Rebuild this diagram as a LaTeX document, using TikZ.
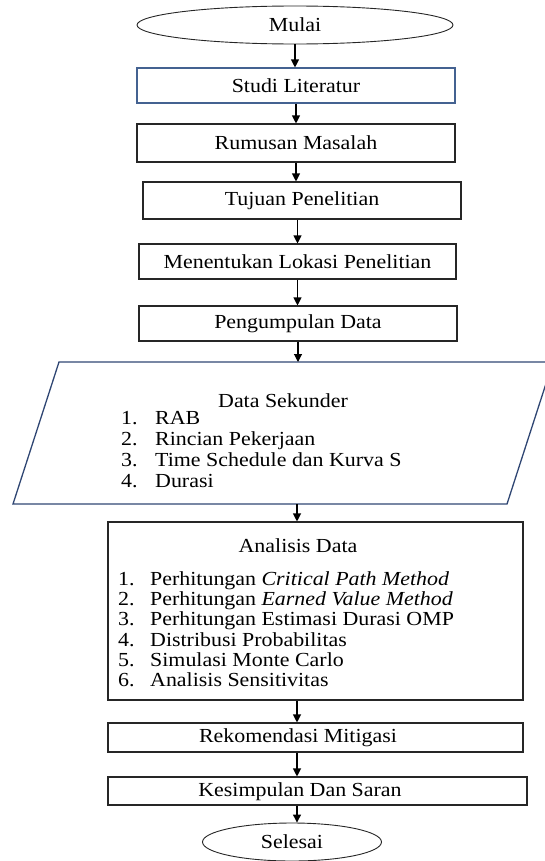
\documentclass[tikz,border=0pt]{standalone}
\usepackage{fontspec}
\setmainfont{Liberation Serif}[FakeStretch=1.1]
\usetikzlibrary{arrows.meta,shapes.geometric}
\definecolor{boxblue}{RGB}{68,98,145}
\definecolor{parablue}{RGB}{47,70,115}
\begin{document}
\begin{tikzpicture}[x=1bp,y=-1bp,
  every node/.style={font=\fontsize{20}{21}\selectfont, inner sep=0pt},
  box/.style={draw=black!85, line width=1.1bp, rectangle},
  term/.style={draw=black!85, line width=0.9bp, ellipse},
  arr/.style={line width=1.1bp, -{Triangle[width=8bp,length=8bp]}},
]
\useasboundingbox (0,0) rectangle (545,861);
\clip (0,0) rectangle (545,861);

\node[term, minimum width=316bp, minimum height=38bp] (mulai) at (295,25) {Mulai};
\node[box, draw=boxblue, minimum width=318bp, minimum height=35bp] (studi) at (296,85.5) {Studi Literatur};
\node[box, minimum width=318bp, minimum height=38bp] (rumusan) at (296,143) {Rumusan Masalah};
\node[box, minimum width=318bp, minimum height=37bp] (tujuan) at (302,200.5) {Tujuan Penelitian};
\node[box, minimum width=317bp, minimum height=35bp] (lokasi) at (297.5,261.5) {Menentukan Lokasi Penelitian};
\node[box, minimum width=318bp, minimum height=35bp] (kumpul) at (298,323.5) {Pengumpulan Data};

\draw[draw=parablue, line width=1.3bp] (59,362) -- (553,362) -- (507,504) -- (13,504) -- cycle;
\coordinate (ptop) at (298,362);
\coordinate (pbot) at (297,504);
\node (dstitle) at (283,401) {Data Sekunder};
\node[anchor=north west, align=left] (dslist) at (121,411)
  {\makebox[34bp][l]{1.}RAB\\
   \makebox[34bp][l]{2.}Rincian Pekerjaan\\
   \makebox[34bp][l]{3.}Time Schedule dan Kurva S\\
   \makebox[34bp][l]{4.}Durasi};

\node[box, minimum width=415bp, minimum height=178bp] (ana) at (315.5,611) {};
\node (anatitle) at (298,546) {Analisis Data};
\node[anchor=north west, align=left, font=\fontsize{20}{20.4}\selectfont] (analist) at (118,571)
  {\makebox[32bp][l]{1.}Perhitungan \textit{Critical Path Method}\\
   \makebox[32bp][l]{2.}Perhitungan \textit{Earned Value Method}\\
   \makebox[32bp][l]{3.}Perhitungan Estimasi Durasi OMP\\
   \makebox[32bp][l]{4.}Distribusi Probabilitas\\
   \makebox[32bp][l]{5.}Simulasi Monte Carlo\\
   \makebox[32bp][l]{6.}Analisis Sensitivitas};

\node[box, minimum width=415bp, minimum height=29bp] (rekom) at (315.5,737.5) {};
\node (rekomtxt) at (298,738) {Rekomendasi Mitigasi};
\node[box, minimum width=419bp, minimum height=28bp] (simpul) at (317.5,791) {};
\node (simpultxt) at (300,792) {Kesimpulan Dan Saran};
\node[term, minimum width=179bp, minimum height=38bp] (selesai) at (292,842) {Selesai};

\draw[arr] (mulai.south) -- (mulai.south |- studi.north);
\draw[arr] (studi.south) -- (studi.south |- rumusan.north);
\draw[arr] (rumusan.south) -- (rumusan.south |- tujuan.north);
\draw[arr] (lokasi.north |- tujuan.south) -- (lokasi.north);
\draw[arr] (lokasi.south) -- (lokasi.south |- kumpul.north);
\draw[arr] (kumpul.south) -- (ptop);
\draw[arr] (pbot) -- (pbot |- ana.north);
\draw[arr] (pbot |- ana.south) -- (pbot |- rekom.north);
\draw[arr] (pbot |- rekom.south) -- (pbot |- simpul.north);
\draw[arr] (pbot |- simpul.south) -- (pbot |- selesai.north);
\end{tikzpicture}
\end{document}
